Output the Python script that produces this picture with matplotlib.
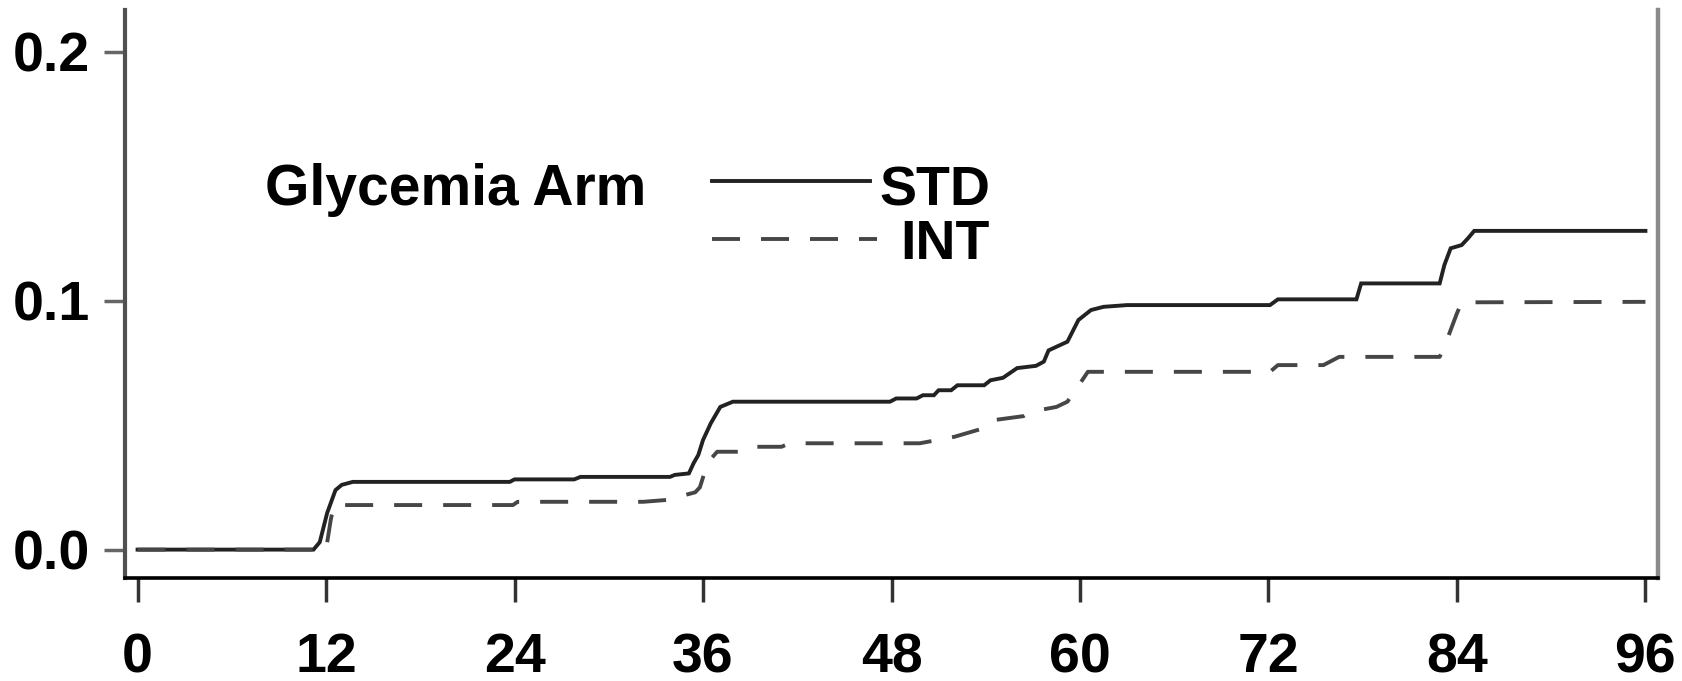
import matplotlib
matplotlib.use("Agg")
import matplotlib.pyplot as plt
from matplotlib.lines import Line2D

plt.rcParams['font.family'] = ['Liberation Sans', 'DejaVu Sans']
plt.rcParams['font.weight'] = 'bold'

# cumulative incidence (months, proportion)
std_t = [0, 11.2, 11.6, 12.07, 12.6, 13.0, 13.7, 23.7, 24.0, 27.8, 28.2, 33.9, 34.2,
         35.1, 35.4, 35.7, 36.0, 36.5, 37.1, 37.9, 47.9, 48.3, 49.6, 50.0, 50.7, 51.0,
         51.8, 52.2, 53.9, 54.3, 55.1, 56.0, 57.2, 57.7, 58.0, 59.2, 59.9, 60.7, 61.5,
         63.0, 72.1, 72.6, 77.6, 77.9, 82.9, 83.2, 83.6, 84.3, 84.7, 85.1, 96.0]
std_v = [0, 0, 0.003, 0.0147, 0.0239, 0.026, 0.0272, 0.0272, 0.0282, 0.0282, 0.0292,
         0.0292, 0.0300, 0.0306, 0.0347, 0.038, 0.044, 0.0508, 0.0573, 0.0594, 0.0594,
         0.0607, 0.0607, 0.062, 0.062, 0.064, 0.064, 0.066, 0.066, 0.068, 0.069, 0.0729,
         0.0738, 0.0755, 0.080, 0.0835, 0.0922, 0.0962, 0.0975, 0.0982, 0.0982, 0.1005,
         0.1005, 0.1069, 0.1069, 0.1143, 0.121, 0.1223, 0.125, 0.128, 0.128]

int_t = [0, 12.0, 12.3, 12.5, 23.9, 24.2, 32.2, 33.8, 34.9, 35.5, 35.8, 36.3, 36.9,
         38.5, 39.0, 41.0, 41.5, 49.8, 51.5, 52.0, 53.9, 54.5, 56.4, 56.8, 58.5, 59.2,
         60.0, 60.5, 72.1, 72.6, 75.5, 76.5, 82.9, 83.2, 84.0, 84.3, 96.0]
int_v = [0, 0, 0.012, 0.0179, 0.0179, 0.0192, 0.0192, 0.0200, 0.0220, 0.023, 0.025,
         0.035, 0.0393, 0.0393, 0.0413, 0.0413, 0.0427, 0.0427, 0.0447, 0.0453, 0.0488,
         0.052, 0.0536, 0.0553, 0.0573, 0.0594, 0.0667, 0.0714, 0.0714, 0.0741, 0.0741,
         0.0774, 0.0774, 0.0815, 0.0949, 0.0993, 0.0995]

x_ticks = [0, 12, 24, 36, 48, 60, 72, 84, 96]
y_ticks = [0.0, 0.1, 0.2]
y_labels = ["0.0", "0.1", "0.2"]

W, H = 1683, 681
fig = plt.figure(figsize=(W / 100, H / 100), dpi=100)
ax = fig.add_axes([125 / W, 1 - 578 / H, (1658 - 125) / W, (578 - 10) / H])

dash = (0, (7.2, 5.4))
ax.plot(std_t, std_v, color="#222222", lw=2.8, solid_joinstyle="miter")
ax.plot(int_t, int_v, color="#464646", lw=2.8, linestyle=dash)

ax.set_xlim(-0.8, 96.8)
ax.set_ylim(-0.0114, 0.2167)
ax.set_xticks(x_ticks)
ax.set_yticks(y_ticks)
ax.set_yticklabels(y_labels)

ax.tick_params(axis="x", direction="out", length=17, width=2.5, color="#333333",
               pad=22, labelsize=40)
ax.tick_params(axis="y", direction="out", length=15, width=2.5, color="#666666",
               pad=10, labelsize=40)

ax.spines["top"].set_visible(False)
ax.spines["bottom"].set_color("black")
ax.spines["bottom"].set_linewidth(2.6)
ax.spines["left"].set_color("#505050")
ax.spines["left"].set_linewidth(3.0)
ax.spines["right"].set_color("#8a8a8a")
ax.spines["right"].set_linewidth(3.2)


# legend drawn by hand, in pixel positions of the figure
def fx(x):
    return x / W


def fy(y):
    return 1 - y / H


fig.text(fx(265), fy(205), "Glycemia Arm", fontsize=41, weight="bold",
         ha="left", va="baseline")
fig.add_artist(Line2D([fx(712), fx(870)], [fy(181), fy(181)], color="#222222", lw=2.8))
fig.add_artist(Line2D([fx(712), fx(877)], [fy(239), fy(239)], color="#464646", lw=2.8,
                      linestyle=dash))
fig.text(fx(990), fy(205), "STD", fontsize=40, weight="bold", ha="right", va="baseline")
fig.text(fx(990), fy(259), "INT", fontsize=40, weight="bold", ha="right", va="baseline")

fig.savefig("out.png", dpi=100)
